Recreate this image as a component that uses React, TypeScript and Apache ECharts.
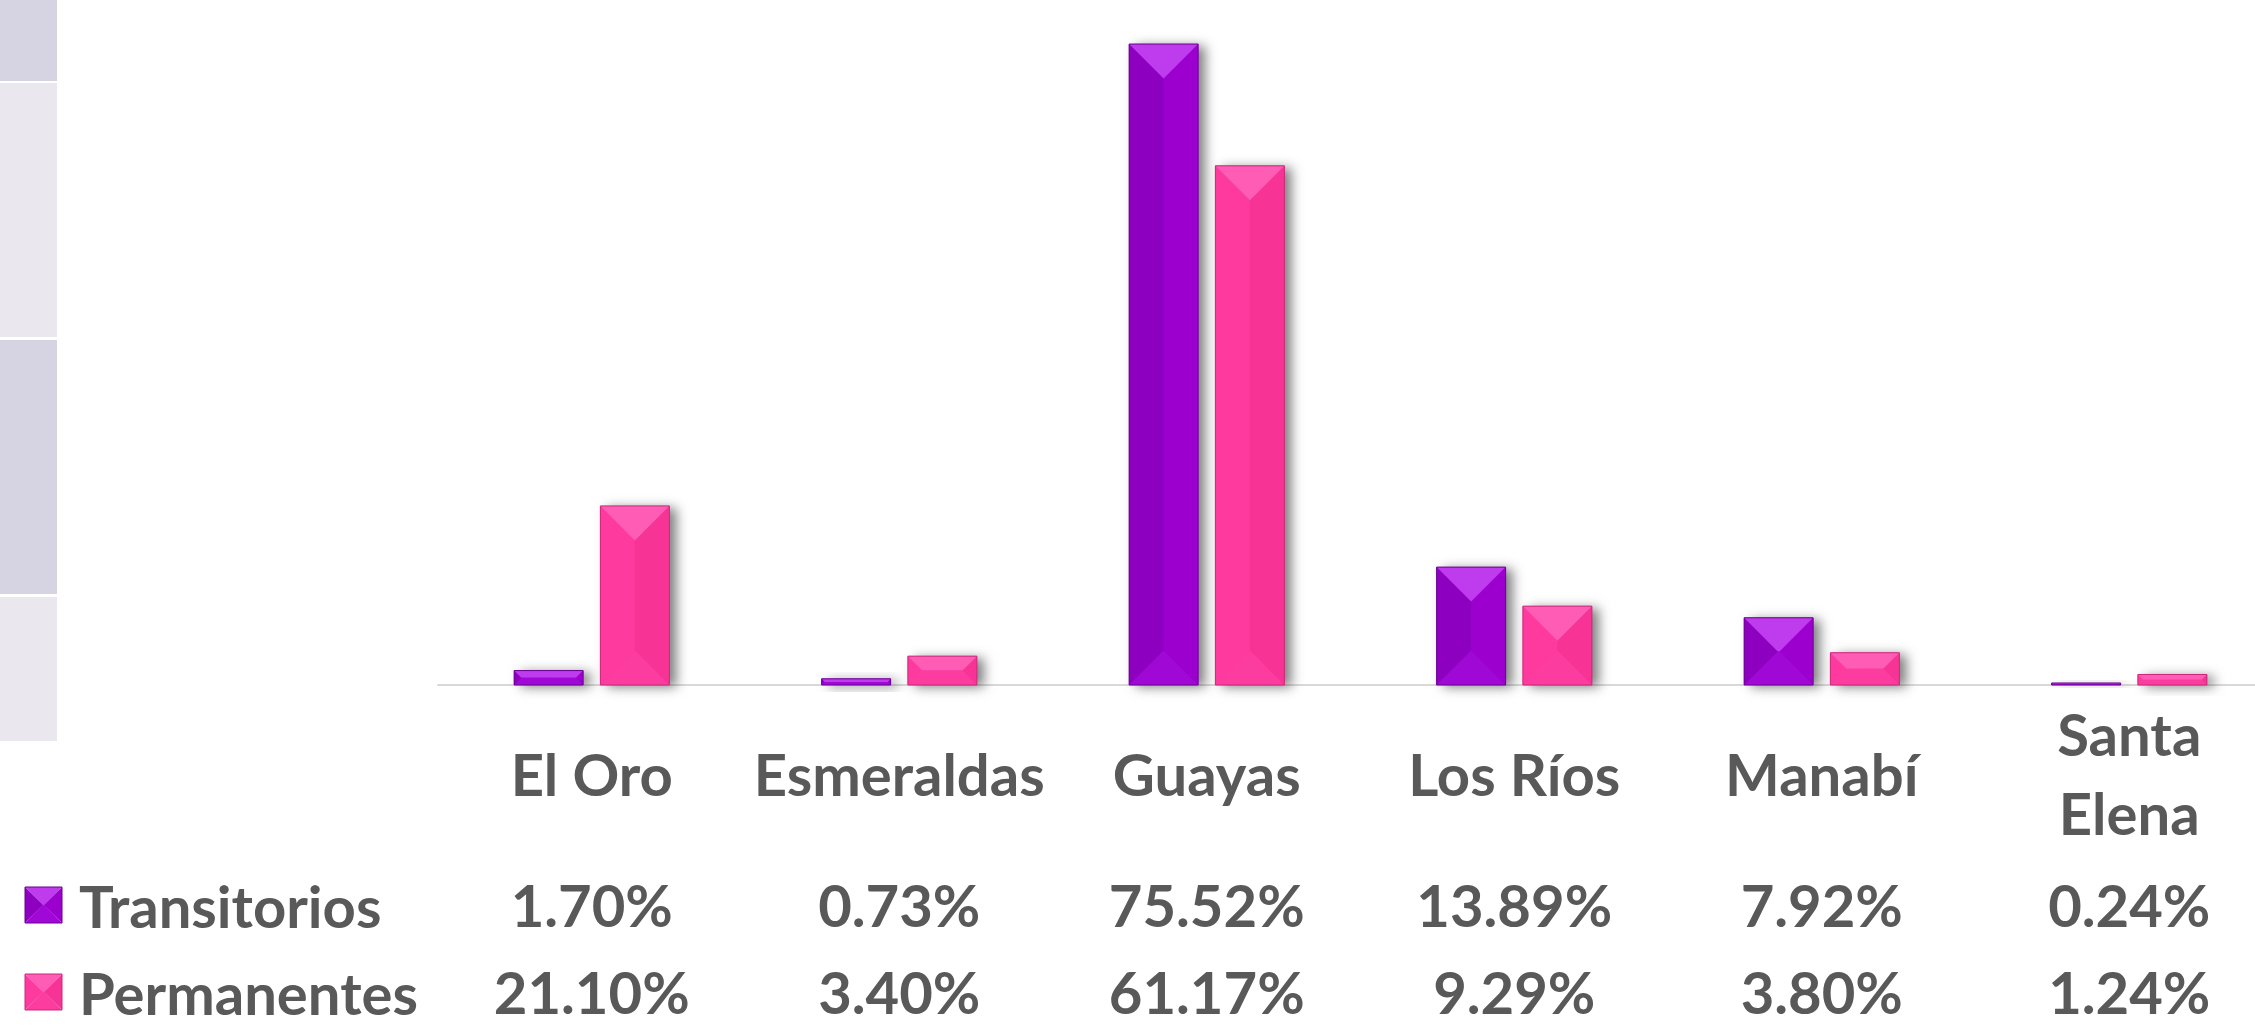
import React, { useEffect, useRef } from 'react';
import * as echarts from 'echarts';

const categories = ['El Oro', 'Esmeraldas', 'Guayas', 'Los Ríos', 'Manabí', 'Santa Elena'];
const transitorios = [1.70, 0.73, 75.52, 13.89, 7.92, 0.24];
const permanentes = [21.10, 3.40, 61.17, 9.29, 3.80, 1.24];
const seriesNames = ['Transitorios', 'Permanentes'];

const BAR_W = 69;
const GAP_PCT = 0.25;
const FONT = 'Lato, "Open Sans", sans-serif';
const TEXT_COLOR = '#595959';

const palettes = [
  { base: '#9900cc', top: '#bf3bee', left: '#8e00bf', right: '#9b00ce', bottom: '#a008d5', edge: '#6a0090' },
  { base: '#ff3399', top: '#ff5cb6', left: '#ff3a9e', right: '#f73495', bottom: '#fc3d9f', edge: '#c8287a' },
];

const fmt = (v: number) => v.toFixed(2) + '%';

function pyramid(x0: number, y0: number, x1: number, y1: number, pal: any, z?: number) {
  const w = x1 - x0;
  const h = y1 - y0;
  const d = Math.max(0, Math.min(w / 2, h / 2));
  const xc = (x0 + x1) / 2;
  const extra = z !== undefined ? { z } : {};
  return [
    { type: 'polygon', ...extra, shape: { points: [[x0, y0], [xc, y0 + d], [xc, y1 - d], [x0, y1]] }, style: { fill: pal.left } },
    { type: 'polygon', ...extra, shape: { points: [[x1, y0], [xc, y0 + d], [xc, y1 - d], [x1, y1]] }, style: { fill: pal.right } },
    { type: 'polygon', ...extra, shape: { points: [[x0, y0], [x1, y0], [x1 - d, y0 + d], [x0 + d, y0 + d]] }, style: { fill: pal.top } },
    { type: 'polygon', ...extra, shape: { points: [[x0, y1], [x1, y1], [x1 - d, y1 - d], [x0 + d, y1 - d]] }, style: { fill: pal.bottom } },
    { type: 'rect', ...extra, shape: { x: x0, y: y0, width: w, height: h }, style: { fill: 'none', stroke: pal.edge, lineWidth: 1 } },
  ];
}

const labelStyle = {
  fontFamily: FONT,
  fontWeight: 'bold',
  fontSize: 58,
  color: TEXT_COLOR,
};

const CHART_W = 2283;
const CHART_H = 1026;

export default function App() {
  const ref = useRef<HTMLDivElement>(null);

  useEffect(() => {
    document.body.style.margin = '0';
    const chart = echarts.init(ref.current!, undefined, { renderer: 'svg' });
    const values = [transitorios, permanentes];

    const barSeries = values.map((vals, s) => ({
      name: seriesNames[s],
      type: 'bar',
      barWidth: BAR_W,
      barGap: GAP_PCT * 100 + '%',
      data: vals,
      itemStyle: {
        color: palettes[s].base,
        shadowColor: 'rgba(0,0,0,0.5)',
        shadowBlur: 12,
        shadowOffsetX: 7,
        shadowOffsetY: 2,
      },
      z: 2,
    }));

    const bevelSeries = values.map((vals, s) => ({
      name: seriesNames[s] + ' bevel',
      type: 'custom',
      silent: true,
      z: 3,
      data: vals.map((v, i) => [i, v]),
      encode: { x: 0, y: 1 },
      renderItem: (params: any, api: any) => {
        const i = api.value(0);
        const v = api.value(1);
        const top = api.coord([i, v]);
        const base = api.coord([i, 0]);
        const gap = BAR_W * GAP_PCT;
        const off = (s === 0 ? -1 : 1) * (BAR_W + gap) / 2;
        const xc = top[0] + off;
        return {
          type: 'group',
          children: pyramid(xc - BAR_W / 2, top[1], xc + BAR_W / 2, base[1], palettes[s]),
        };
      },
    }));

    const legendRows = [905, 992];
    const legendGraphics: any[] = [];
    seriesNames.forEach((name, s) => {
      const cy = legendRows[s];
      legendGraphics.push(...pyramid(25, cy - 18, 62, cy + 18, palettes[s], 100));
      legendGraphics.push({
        type: 'text',
        z: 100,
        x: 79,
        y: cy,
        style: {
          text: name,
          font: `bold 58px ${FONT}`,
          fill: TEXT_COLOR,
          textAlign: 'left',
          textVerticalAlign: 'middle',
          verticalAlign: 'middle',
        },
      });
    });

    const option: any = {
      animation: false,
      backgroundColor: '#ffffff',
      grid: { left: 438, right: 0, top: 6, bottom: 341, containLabel: false },
      xAxis: [
        {
          type: 'category',
          data: categories,
          position: 'bottom',
          axisLine: { show: true, lineStyle: { color: '#d9d9d9', width: 2 } },
          axisTick: { show: false },
          axisLabel: {
            ...labelStyle,
            interval: 0,
            margin: 88,
            verticalAlign: 'middle',
            lineHeight: 79,
            formatter: (v: string) => (v.length > 10 ? v.replace(' ', '\n') : v),
          },
        },
        {
          type: 'category',
          data: categories,
          position: 'bottom',
          axisLine: { show: false },
          axisTick: { show: false },
          axisLabel: {
            ...labelStyle,
            interval: 0,
            margin: 219,
            verticalAlign: 'middle',
            formatter: (_: string, i: number) => fmt(transitorios[i]),
          },
        },
        {
          type: 'category',
          data: categories,
          position: 'bottom',
          axisLine: { show: false },
          axisTick: { show: false },
          axisLabel: {
            ...labelStyle,
            interval: 0,
            margin: 306,
            verticalAlign: 'middle',
            formatter: (_: string, i: number) => fmt(permanentes[i]),
          },
        },
      ],
      yAxis: { type: 'value', min: 0, max: 80, show: false, splitLine: { show: false } },
      series: [...barSeries, ...bevelSeries],
      graphic: [
        { type: 'rect', shape: { x: 0, y: 0, width: 57, height: 81 }, style: { fill: '#d6d3e2' } },
        { type: 'rect', shape: { x: 0, y: 83, width: 57, height: 254 }, style: { fill: '#eae8ee' } },
        { type: 'rect', shape: { x: 0, y: 340, width: 57, height: 254 }, style: { fill: '#d6d3e2' } },
        { type: 'rect', shape: { x: 0, y: 597, width: 57, height: 144 }, style: { fill: '#eae8ee' } },
        ...legendGraphics,
      ],
    };

    chart.setOption(option);
    return () => chart.dispose();
  }, []);

  return (
    <div style={{ position: 'fixed', left: 0, top: 0, width: 2255, height: 1026, overflow: 'hidden' }}>
      <div ref={ref} style={{ width: CHART_W, height: CHART_H }} />
    </div>
  );
}
